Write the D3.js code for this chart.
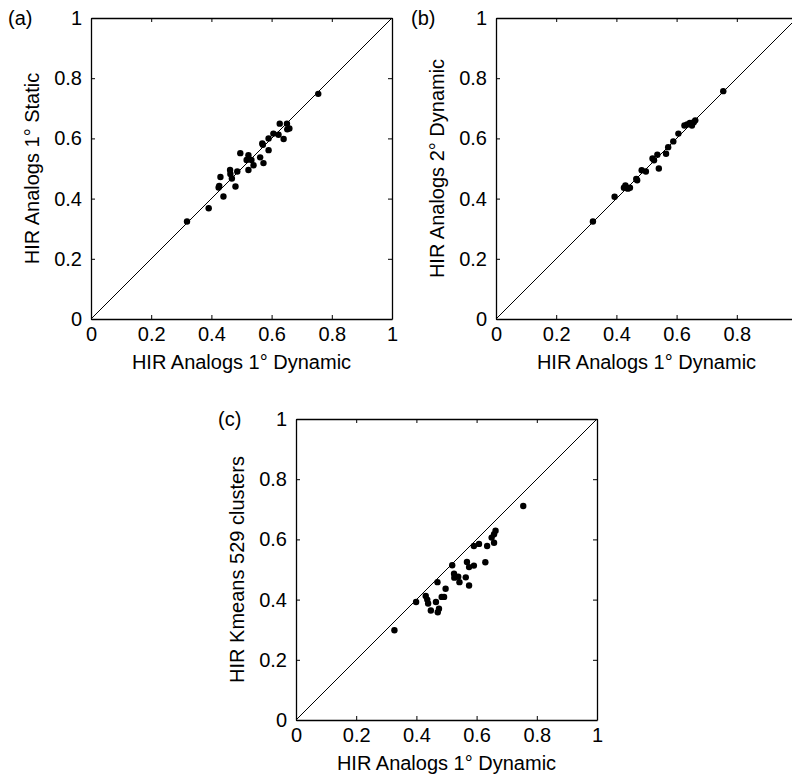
<!DOCTYPE html>
<html>
<head>
<meta charset="utf-8">
<script src="https://cdn.jsdelivr.net/npm/d3@7"></script>
<style>
  html, body { margin: 0; padding: 0; background: #fff; }
  svg { display: block; }
  text { font-family: "Liberation Sans", Arial, Helvetica, sans-serif; fill: #000; }
</style>
</head>
<body>
<svg id="chart" width="792" height="779"></svg>
<script>
// Panel (a): 1° dynamic vs 1° static analog scores
const dynA = [0.319, 0.391, 0.424, 0.426, 0.430, 0.440, 0.462, 0.463, 0.468, 0.480, 0.486, 0.496, 0.517, 0.523, 0.523, 0.533, 0.540, 0.562, 0.569, 0.571, 0.573, 0.590, 0.590, 0.606, 0.623, 0.627, 0.640, 0.651, 0.652, 0.659, 0.755];
const staticA = [0.324, 0.368, 0.437, 0.442, 0.472, 0.407, 0.495, 0.482, 0.467, 0.440, 0.490, 0.551, 0.528, 0.544, 0.495, 0.528, 0.511, 0.537, 0.583, 0.579, 0.518, 0.561, 0.600, 0.616, 0.612, 0.649, 0.598, 0.649, 0.630, 0.633, 0.748];

// Panel (b): 1° dynamic vs 2° dynamic analog scores
const dynB = [0.322, 0.394, 0.425, 0.430, 0.438, 0.445, 0.466, 0.469, 0.484, 0.498, 0.520, 0.525, 0.536, 0.541, 0.565, 0.572, 0.589, 0.606, 0.626, 0.635, 0.644, 0.651, 0.657, 0.662, 0.755];
const dyn2B = [0.324, 0.406, 0.436, 0.444, 0.433, 0.436, 0.465, 0.461, 0.494, 0.490, 0.533, 0.527, 0.546, 0.500, 0.549, 0.571, 0.590, 0.616, 0.643, 0.646, 0.651, 0.643, 0.654, 0.660, 0.757];

// Panel (c): 1° dynamic analogs vs k-means with 529 clusters
const dynC = [0.327, 0.399, 0.431, 0.436, 0.439, 0.448, 0.465, 0.471, 0.475, 0.470, 0.484, 0.492, 0.497, 0.519, 0.525, 0.526, 0.539, 0.543, 0.564, 0.568, 0.575, 0.575, 0.591, 0.591, 0.608, 0.629, 0.635, 0.650, 0.658, 0.658, 0.663, 0.755];
const kmeansC = [0.298, 0.392, 0.412, 0.400, 0.387, 0.364, 0.392, 0.358, 0.370, 0.458, 0.409, 0.409, 0.436, 0.514, 0.486, 0.473, 0.476, 0.458, 0.474, 0.525, 0.447, 0.508, 0.513, 0.578, 0.585, 0.524, 0.578, 0.606, 0.589, 0.617, 0.629, 0.711];

const tickValues = [0, 0.2, 0.4, 0.6, 0.8, 1];
const tickLabels = ["0", "0.2", "0.4", "0.6", "0.8", "1"];
const panelTags = ["(a)", "(b)", "(c)"];
const xTitle = "HIR Analogs 1\u00b0 Dynamic";
const yTitles = ["HIR Analogs 1\u00b0 Static", "HIR Analogs 2\u00b0 Dynamic", "HIR Kmeans 529 clusters"];

const panels = [
  { left: 91,  top: 18,  tagX: -83, xs: dynA, ys: staticA },
  { left: 496, top: 18,  tagX: -85, xs: dynB, ys: dyn2B },
  { left: 296, top: 419, tagX: -78, xs: dynC, ys: kmeansC }
];
const side = 301;
const tickLen = 4;
const fontSize = 20;

const svg = d3.select("#chart");

panels.forEach((p, i) => {
  const x = d3.scaleLinear().domain([0, 1]).range([0, side]);
  const y = d3.scaleLinear().domain([0, 1]).range([side, 0]);
  const g = svg.append("g").attr("transform", `translate(${p.left},${p.top})`);

  // identity line
  g.append("line")
    .attr("x1", x(0)).attr("y1", y(0))
    .attr("x2", x(1)).attr("y2", y(1))
    .attr("stroke", "#000").attr("stroke-width", 1);

  // points
  g.selectAll("circle.pt")
    .data(p.xs.map((v, k) => [v, p.ys[k]]))
    .join("circle")
    .attr("class", "pt")
    .attr("cx", d => x(d[0]))
    .attr("cy", d => y(d[1]))
    .attr("r", 3.2)
    .attr("fill", "#000");

  // axes with inward ticks on all four sides
  const fmt = (d, k) => tickLabels[k];
  const bottom = g.append("g").attr("transform", `translate(0,${side})`)
    .call(d3.axisBottom(x).tickValues(tickValues).tickFormat(fmt).tickSizeInner(-tickLen).tickSizeOuter(0).tickPadding(8));
  const left = g.append("g")
    .call(d3.axisLeft(y).tickValues(tickValues).tickFormat(fmt).tickSizeInner(-tickLen).tickSizeOuter(0).tickPadding(9));
  const top = g.append("g")
    .call(d3.axisTop(x).tickValues(tickValues).tickFormat("").tickSizeInner(-tickLen).tickSizeOuter(0));
  const right = g.append("g").attr("transform", `translate(${side},0)`)
    .call(d3.axisRight(y).tickValues(tickValues).tickFormat("").tickSizeInner(-tickLen).tickSizeOuter(0));

  [bottom, left, top, right].forEach(ax => {
    ax.select(".domain").attr("stroke", "#000").attr("stroke-width", 1.3);
    ax.selectAll(".tick line").attr("stroke", "#000").attr("stroke-width", 1);
    ax.selectAll(".tick text")
      .attr("font-size", fontSize)
      .attr("font-family", "Liberation Sans, Arial, sans-serif")
      .attr("fill", "#000");
  });

  // axis titles
  g.append("text")
    .attr("x", side / 2).attr("y", side + 50)
    .attr("text-anchor", "middle")
    .attr("font-size", fontSize)
    .text(xTitle);

  g.append("text")
    .attr("transform", `translate(-52,${side / 2}) rotate(-90)`)
    .attr("text-anchor", "middle")
    .attr("font-size", fontSize)
    .text(yTitles[i]);

  // panel tag
  g.append("text")
    .attr("x", p.tagX).attr("y", 7)
    .attr("font-size", fontSize)
    .text(panelTags[i]);
});
</script>
</body>
</html>
